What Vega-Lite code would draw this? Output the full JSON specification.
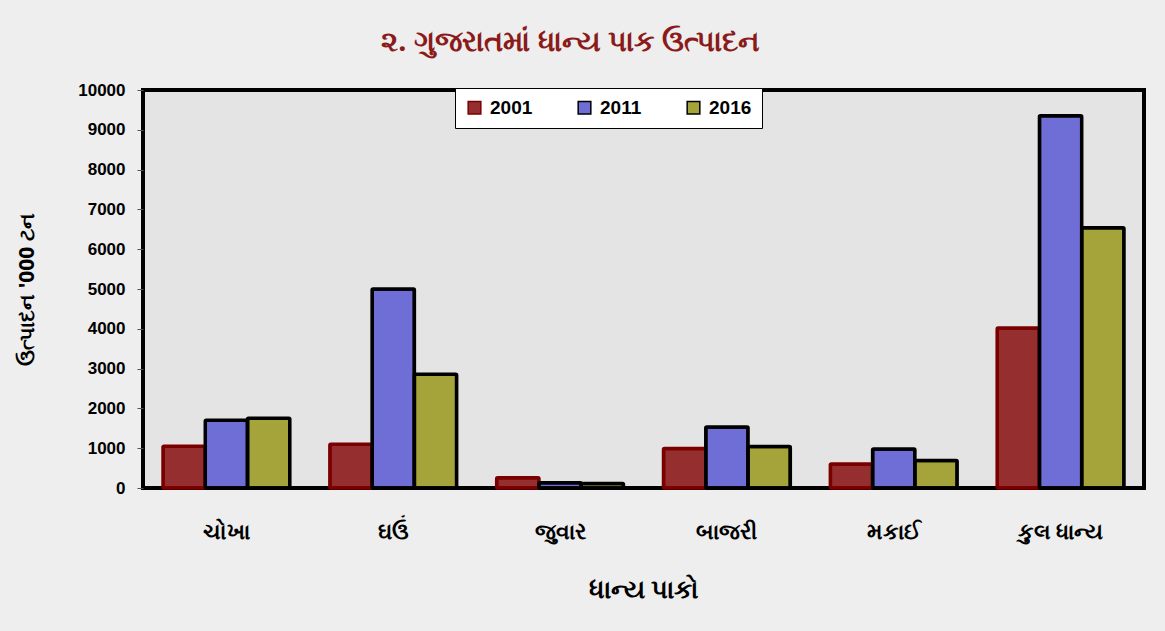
{
  "$schema": "https://vega.github.io/schema/vega-lite/v6.json",
  "width": 1001,
  "height": 398,
  "autosize": {"type": "none"},
  "padding": {"left": 143, "top": 90, "right": 21, "bottom": 143},
  "background": "#eeeeee",
  "title": {
    "text": "૨. ગુજરાતમાં ધાન્ય પાક ઉત્પાદન",
    "color": "#8b1a1a",
    "fontSize": 29,
    "fontWeight": "bold",
    "font": "Noto Sans",
    "anchor": "middle",
    "offset": 24,
    "dx": -73
  },
  "data": {
    "values": [
      {"crop": "ચોખા", "year": "2001", "value": 1050},
      {"crop": "ચોખા", "year": "2011", "value": 1700},
      {"crop": "ચોખા", "year": "2016", "value": 1750},
      {"crop": "ઘઉં", "year": "2001", "value": 1100},
      {"crop": "ઘઉં", "year": "2011", "value": 5000},
      {"crop": "ઘઉં", "year": "2016", "value": 2860},
      {"crop": "જુવાર", "year": "2001", "value": 260},
      {"crop": "જુવાર", "year": "2011", "value": 130},
      {"crop": "જુવાર", "year": "2016", "value": 110},
      {"crop": "બાજરી", "year": "2001", "value": 990},
      {"crop": "બાજરી", "year": "2011", "value": 1530},
      {"crop": "બાજરી", "year": "2016", "value": 1040},
      {"crop": "મકાઈ", "year": "2001", "value": 600},
      {"crop": "મકાઈ", "year": "2011", "value": 980},
      {"crop": "મકાઈ", "year": "2016", "value": 690},
      {"crop": "કુલ ધાન્ય", "year": "2001", "value": 4020},
      {"crop": "કુલ ધાન્ય", "year": "2011", "value": 9350},
      {"crop": "કુલ ધાન્ય", "year": "2016", "value": 6540}
    ]
  },
  "mark": {"type": "bar", "strokeWidth": 3.5, "cornerRadius": 1},
  "encoding": {
    "x": {
      "field": "crop",
      "type": "nominal",
      "sort": null,
      "scale": {"paddingInner": 0.24, "paddingOuter": 0.12},
      "axis": {
        "title": "ધાન્ય પાકો",
        "titleFont": "Noto Sans",
        "titleFontSize": 26,
        "titleFontWeight": "bold",
        "titleColor": "#000000",
        "titlePadding": 34,
        "labelFont": "Noto Sans",
        "labelFontSize": 22,
        "labelFontWeight": "bold",
        "labelColor": "#000000",
        "labelAngle": 0,
        "labelPadding": 33,
        "ticks": false,
        "domain": false
      }
    },
    "xOffset": {"field": "year", "type": "nominal"},
    "y": {
      "field": "value",
      "type": "quantitative",
      "scale": {"domain": [0, 10000], "nice": false},
      "axis": {
        "title": "ઉત્પાદન '000 ટન",
        "titleFont": "Noto Sans",
        "titleFontSize": 21,
        "titleFontWeight": "bold",
        "titleColor": "#000000",
        "titlePadding": 40,
        "values": [0, 1000, 2000, 3000, 4000, 5000, 6000, 7000, 8000, 9000, 10000],
        "format": "d",
        "labelFont": "Liberation Sans",
        "labelFontSize": 17,
        "labelFontWeight": "bold",
        "labelColor": "#000000",
        "grid": false,
        "domain": false,
        "tickColor": "#555555",
        "tickSize": 6,
        "labelPadding": 12
      }
    },
    "color": {
      "field": "year",
      "type": "nominal",
      "scale": {"domain": ["2001", "2011", "2016"], "range": ["#952e2e", "#6e6ed6", "#a4a43a"]},
      "legend": {
        "title": null,
        "orient": "none",
        "legendX": 312,
        "legendY": -2,
        "direction": "horizontal",
        "fillColor": "#ffffff",
        "strokeColor": "#000000",
        "padding": 10,
        "symbolType": "square",
        "symbolSize": 160,
        "symbolStrokeColor": "#000000",
        "symbolStrokeWidth": 1.5,
        "labelFont": "Liberation Sans",
        "labelFontSize": 19,
        "labelFontWeight": "bold",
        "labelColor": "#000000",
        "columnPadding": 42,
        "labelOffset": 6,
        "labelLimit": 100
      }
    },
    "stroke": {
      "field": "year",
      "type": "nominal",
      "scale": {"domain": ["2001", "2011", "2016"], "range": ["#7a0000", "#000000", "#000000"]},
      "legend": null
    }
  },
  "config": {
    "view": {"fill": "#e4e4e4", "stroke": "#000000", "strokeWidth": 4}
  }
}
